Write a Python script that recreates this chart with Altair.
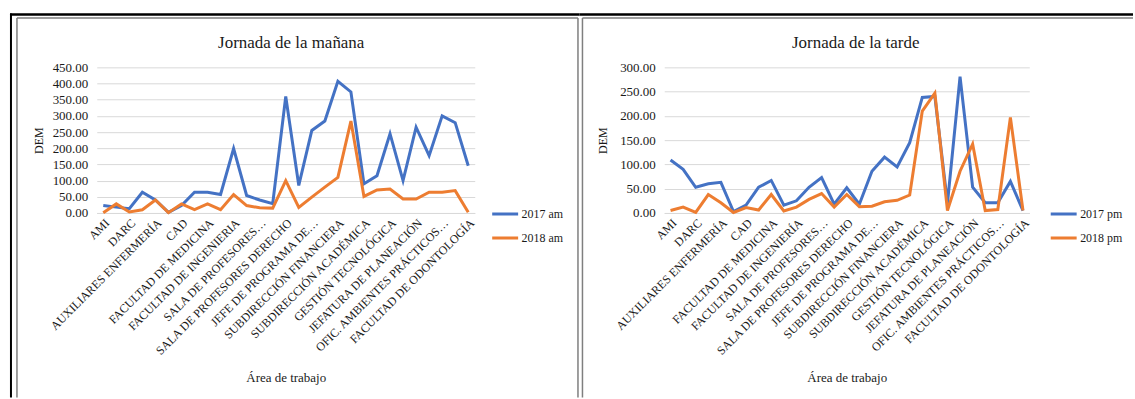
import altair as alt
import pandas as pd

FONT = "Liberation Serif"
TXT = "#1a1a1a"

# category index (29 work areas); Excel shows only every other label
indices = list(range(29))
etiquetas_am = ["AMI", "DARC", "AUXILIARES ENFERMERÍA", "CAD", "FACULTAD DE  MEDICINA",
                "FACULTAD DE INGENIERIA", "SALA DE PROFESORES…", "SALA DE PROFESORES DERECHO",
                "JEFE DE PROGRAMA DE…", "SUBDIRECCIÓN FINANCIERA", "SUBDIRECCIÓN ACADÉMICA",
                "GESTIÓN TECNOLÓGICA", "JEFATURA DE PLANEACIÓN", "OFIC. AMBIENTES PRÁCTICOS…",
                "FACULTAD DE ODONTOLOGÍA"]
etiquetas_pm = ["AMI", "DARC", "AUXILIARES ENFERMERÍA", "CAD", "FACULTAD DE  MEDICINA",
                "FACULTAD DE INGENIERÍA", "SALA DE PROFESORES…", "SALA DE PROFESORES DERECHO",
                "JEFE DE PROGRAMA DE…", "SUBDIRECCIÓN FINANCIERA", "SUBDIRECCIÓN ACADÉMICA",
                "GESTIÓN TECNOLÓGICA", "JEFATURA DE PLANEACIÓN", "OFIC. AMBIENTES PRÁCTICOS…",
                "FACULTAD DE ODONTOLOGÍA"]

am_2017 = [23, 18, 13, 64, 40, 2, 23, 64, 64, 57, 199, 54, 40, 29, 360, 85, 255, 284, 407,
           374, 90, 115, 245, 100, 265, 177, 300, 279, 146]
am_2018 = [1, 28, 3, 10, 40, 1, 28, 10, 28, 10, 57, 23, 16, 15, 100, 17, 49, 80, 110,
           284, 51, 71, 74, 43, 43, 64, 64, 69, 2]
pm_2017 = [109, 90, 53, 60, 63, 3, 16, 53, 67, 16, 25, 53, 73, 18, 52, 18, 86, 115, 95,
           145, 238, 240, 20, 281, 53, 21, 21, 65, 5]
pm_2018 = [5, 12, 1, 38, 21, 1, 11, 6, 38, 4, 12, 28, 40, 12, 38, 13, 14, 23, 26,
           37, 210, 247, 5, 86, 142, 5, 7, 197, 5]

BLUE = "#4472C4"
ORANGE = "#ED7D31"
GREY = "#7f7f7f"
PLOT_H = 146


def linea(x, x2, y, y2, color, sw):
    return alt.Chart(alt.Data(values=[{"d": 0}])).mark_rule(
        color=color, strokeWidth=sw, strokeCap="butt"
    ).encode(x=alt.value(x), x2=alt.value(x2), y=alt.value(y), y2=alt.value(y2))


def titulo_txt(texto, x, y):
    return alt.Chart(alt.Data(values=[{"d": 0}])).mark_text(
        font=FONT, fontSize=17, color=TXT, align="center", baseline="alphabetic"
    ).encode(x=alt.value(x), y=alt.value(y), text=alt.value(texto))


def panel(v1, v2, s1, s2, etiquetas, titulo, ymax, w, title_x, legend_x, ytitle_x, marcos):
    df = pd.DataFrame({
        "i": indices + indices,
        "DEM": v1 + v2,
        "serie": [s1] * len(v1) + [s2] * len(v2),
    })
    label_expr = "[" + ",".join("'" + e + "'" for e in etiquetas) + "][datum.value/2]"
    lines = alt.Chart(df).mark_line(strokeWidth=3).encode(
        x=alt.X("i:Q",
                scale=alt.Scale(domain=[-0.5, 28.5], nice=False, zero=False),
                axis=alt.Axis(values=list(range(0, 29, 2)), labelExpr=label_expr,
                              labelAngle=-45, labelOverlap=False, labelFlush=False,
                              labelLimit=400,
                              labelFont=FONT, labelFontSize=12, labelColor=TXT,
                              labelPadding=4, grid=False, ticks=False,
                              domainColor="#d9d9d9", domainWidth=1,
                              title="Área de trabajo", titleFont=FONT, titleFontSize=13,
                              titleFontWeight="normal", titleColor=TXT,
                              titleY=159, titleBaseline="top")),
        y=alt.Y("DEM:Q",
                scale=alt.Scale(domain=[0, ymax], nice=False),
                axis=alt.Axis(values=list(range(0, ymax + 1, 50)), format=".2f",
                              labelFont=FONT, labelFontSize=13, labelColor=TXT,
                              labelPadding=9, grid=True, gridColor="#d9d9d9",
                              domain=False, ticks=False,
                              title="DEM", titleFont=FONT, titleFontSize=12,
                              titleFontWeight="normal", titleColor=TXT,
                              titleX=ytitle_x, titleY=PLOT_H / 2, titleAngle=270,
                              titleAlign="center", titleBaseline="middle")),
        color=alt.Color("serie:N",
                        scale=alt.Scale(domain=[s1, s2], range=[BLUE, ORANGE]),
                        legend=alt.Legend(orient="none", legendX=legend_x, legendY=137,
                                          title=None, symbolType="stroke", symbolSize=676,
                                          symbolStrokeWidth=3, labelFont=FONT,
                                          labelFontSize=12, labelColor=TXT, labelOffset=2,
                                          clipHeight=20, rowPadding=4, padding=0)),
        detail="serie:N",
    )
    capas = [lines, titulo_txt(titulo, title_x, -19)] + marcos
    return alt.layer(*capas).properties(
        width=w, height=PLOT_H,
    ).resolve_scale(color="independent")


W1 = 379
W2 = 366
BOTTOM = 331

marcos_izq = [
    linea(-86, -86, -54, BOTTOM, "#000000", 2),
    linea(-87, 484, -53, -53, "#000000", 2.5),
    linea(-80, -80, -49.5, BOTTOM, GREY, 1.5),
    linea(-80, 482.5, -49.5, -49.5, GREY, 1.5),
    linea(482.5, 482.5, -49.5, BOTTOM, GREY, 1.5),
]
marcos_der = [
    linea(-85, 470, -53, -53, "#000000", 2.5),
    linea(-82, 470, -49.5, -49.5, GREY, 1.5),
    linea(-82, -82, -49.5, BOTTOM, GREY, 1.5),
]

izq = panel(am_2017, am_2018, "2017 am", "2018 am", etiquetas_am, "Jornada de la mañana",
            450, W1, 195, 395, -58, marcos_izq)
der = panel(pm_2017, pm_2018, "2017 pm", "2018 pm", etiquetas_pm, "Jornada de la tarde",
            300, W2, 192, 386, -62, marcos_der)

chart = alt.hconcat(izq, der, spacing=190, bounds="flush").resolve_scale(
    color="independent"
).properties(
    padding={"left": 8, "top": 12, "right": 0, "bottom": 0},
    background="white",
).configure_view(strokeWidth=0)

chart.save("out.html", embed_options={"renderer": "svg", "actions": False})
